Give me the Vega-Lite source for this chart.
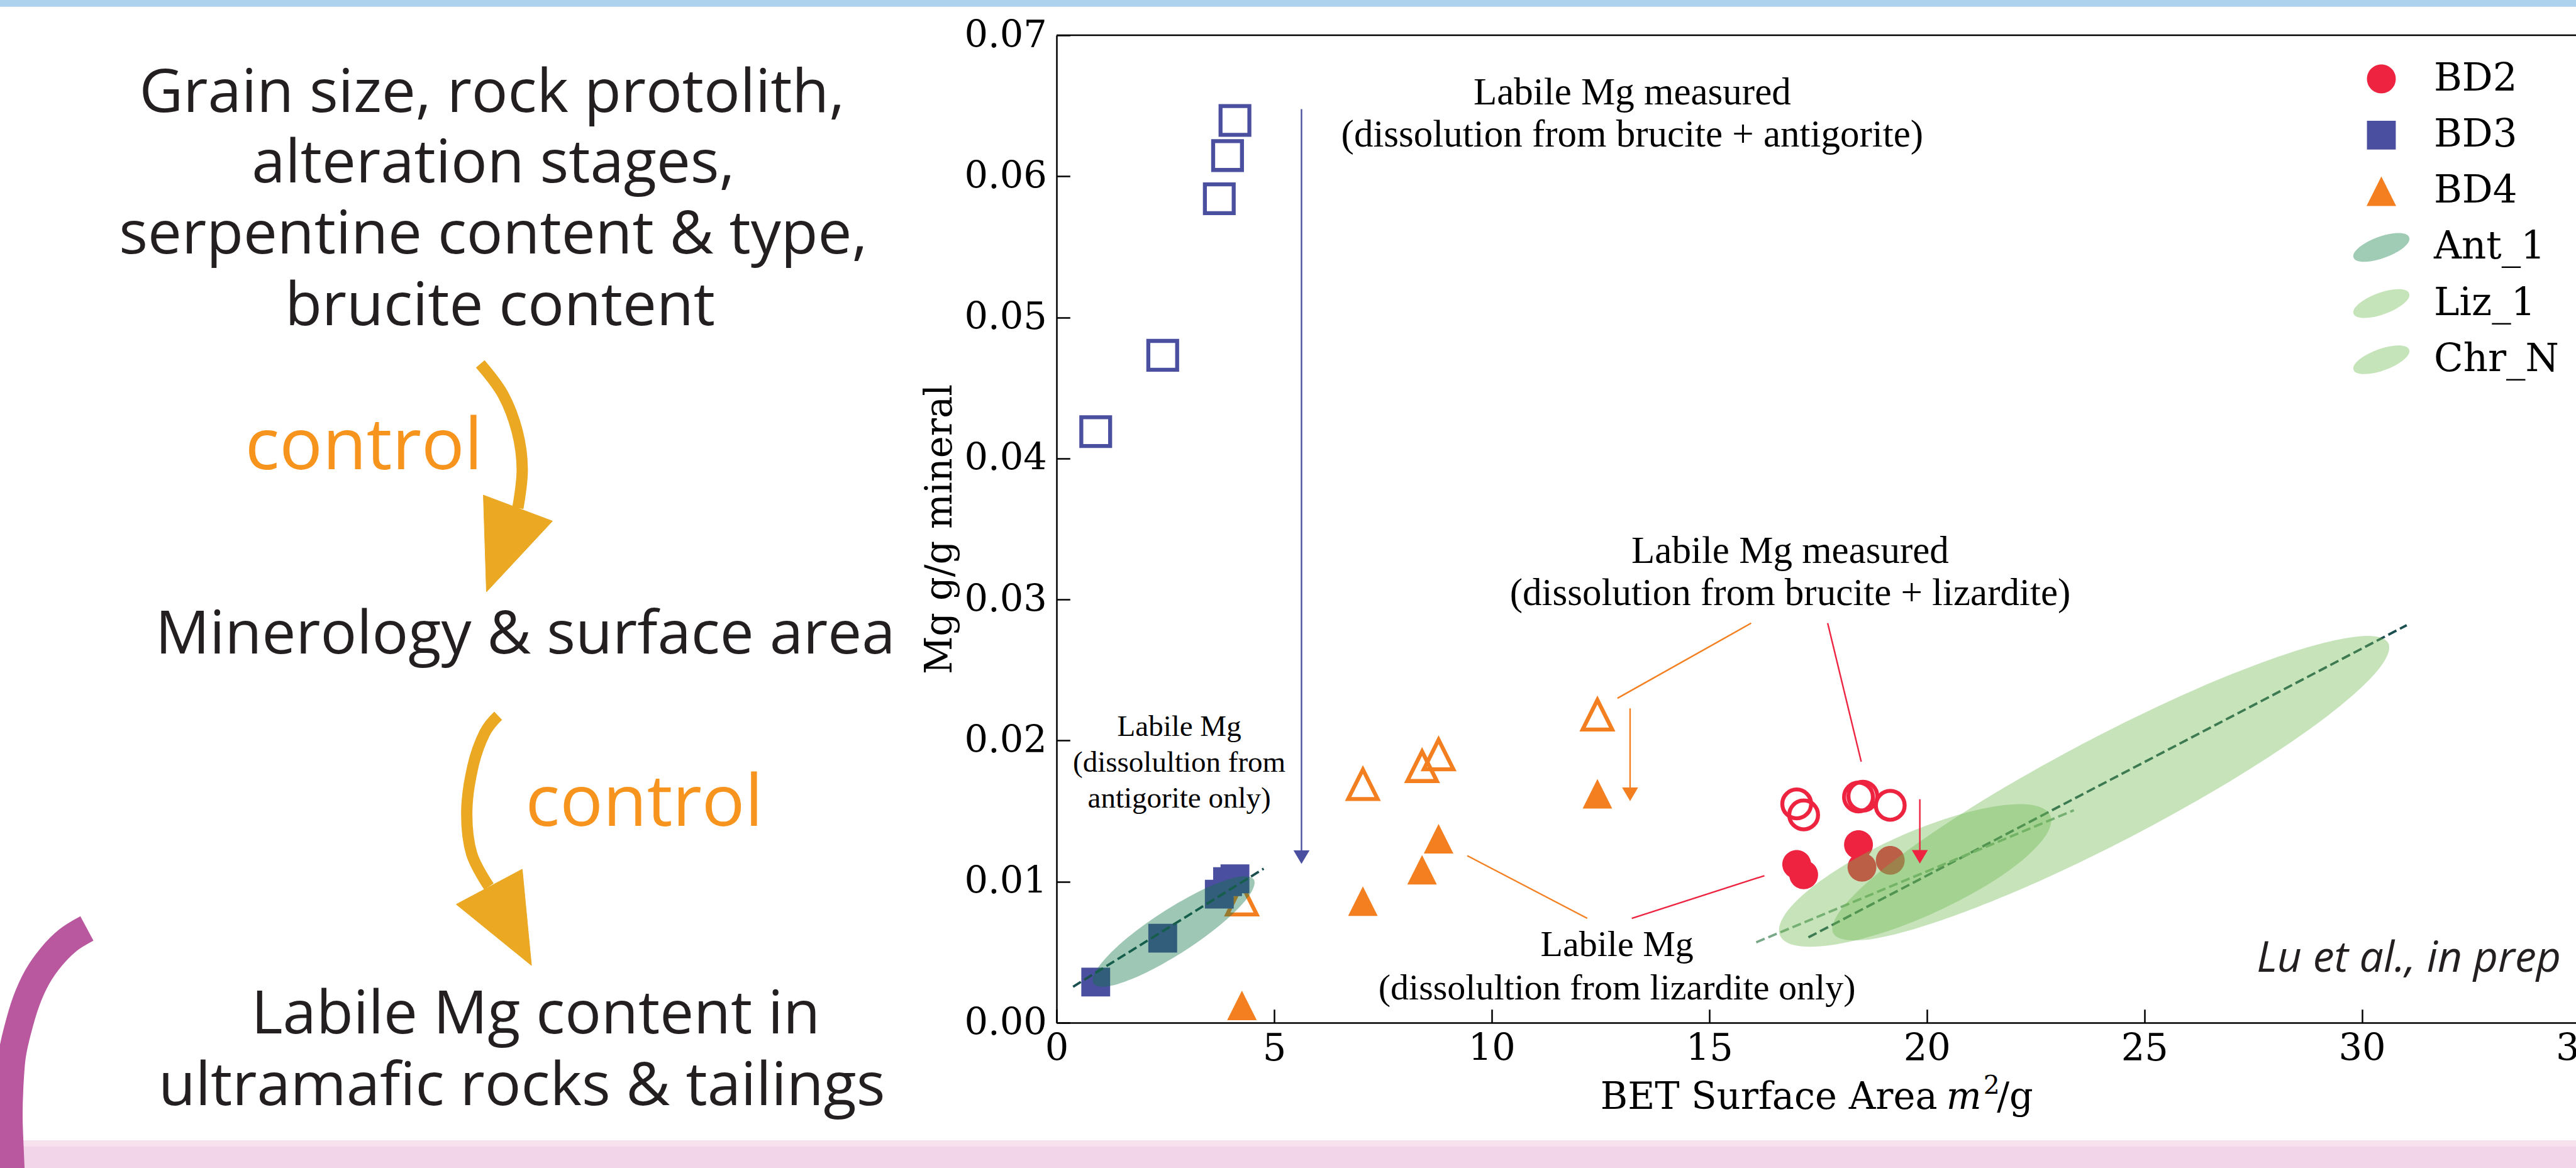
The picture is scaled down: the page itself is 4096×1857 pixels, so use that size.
{
  "$schema": "https://vega.github.io/schema/vega-lite/v6.json",
  "width": 2416,
  "height": 1570,
  "autosize": {"type": "none"},
  "padding": {"left": 1680, "top": 56, "right": 0, "bottom": 231},
  "background": "white",
  "config": {
    "view": {"stroke": null},
    "axis": {
      "grid": false,
      "domainColor": "black",
      "domainWidth": 2.5,
      "tickColor": "black",
      "tickWidth": 2.5,
      "tickSize": -21.3,
      "labelFont": "DejaVu Serif",
      "labelFontSize": 59,
      "labelColor": "black",
      "titleFont": "DejaVu Serif",
      "titleFontSize": 59,
      "titleFontWeight": "normal",
      "titleColor": "black",
      "labelFlush": false,
      "labelOverlap": false,
      "labelBound": false
    }
  },
  "resolve": {"scale": {"shape": "independent", "fill": "independent", "stroke": "independent", "color": "independent"}},
  "datasets": {
    "strips": [
      {"b": "top", "x": -24.4, "x2": 35.5, "y": 0.0726, "y2": 0.072015},
      {"b": "pinkLight", "x": -24.4, "x2": 35.5, "y": -0.00834, "y2": -0.00878},
      {"b": "pink", "x": -24.4, "x2": 35.5, "y": -0.00878, "y2": -0.0108}
    ],
    "arc": [
      {"i": 0, "x": -22.285, "y": 0.00668},
      {"i": 1, "x": -22.72, "y": 0.00585},
      {"i": 2, "x": -23.102, "y": 0.00467},
      {"i": 3, "x": -23.428, "y": 0.00323},
      {"i": 4, "x": -23.683, "y": 0.00149},
      {"i": 5, "x": -23.881, "y": -0.00057},
      {"i": 6, "x": -24.008, "y": -0.0024},
      {"i": 7, "x": -24.065, "y": -0.00472},
      {"i": 8, "x": -24.079, "y": -0.0069},
      {"i": 9, "x": -24.037, "y": -0.01022},
      {"i": 10, "x": -24.023, "y": -0.01118}
    ],
    "lshaft": [
      {"a": 1, "i": 0, "x": -13.244, "y": 0.0467},
      {"a": 1, "i": 1, "x": -12.72, "y": 0.04452},
      {"a": 1, "i": 2, "x": -12.394, "y": 0.0419},
      {"a": 1, "i": 3, "x": -12.28, "y": 0.03923},
      {"a": 1, "i": 4, "x": -12.38, "y": 0.03648},
      {"a": 2, "i": 0, "x": -12.833, "y": 0.02176},
      {"a": 2, "i": 1, "x": -13.144, "y": 0.02053},
      {"a": 2, "i": 2, "x": -13.414, "y": 0.01817},
      {"a": 2, "i": 3, "x": -13.555, "y": 0.01498},
      {"a": 2, "i": 4, "x": -13.442, "y": 0.01197},
      {"a": 2, "i": 5, "x": -13.045, "y": 0.00965}
    ],
    "lhead": [
      {"a": 1, "i": 0, "x": -13.173, "y": 0.0374},
      {"a": 1, "i": 1, "x": -11.586, "y": 0.03556},
      {"a": 1, "i": 2, "x": -13.102, "y": 0.03054},
      {"a": 2, "i": 0, "x": -13.796, "y": 0.00839},
      {"a": 2, "i": 1, "x": -12.28, "y": 0.01088},
      {"a": 2, "i": 2, "x": -12.068, "y": 0.00406}
    ],
    "ltext": [
      {"t": "Grain size, rock protolith,", "x": -12.975, "y": 0.06457},
      {"t": "alteration stages,", "x": -12.946, "y": 0.05955},
      {"t": "serpentine content & type,", "x": -12.946, "y": 0.05454},
      {"t": "brucite content", "x": -12.79, "y": 0.04943},
      {"t": "Minerology & surface area", "x": -12.21, "y": 0.02617},
      {"t": "Labile Mg content in", "x": -11.97, "y": -0.00074},
      {"t": "ultramafic rocks & tailings", "x": -12.29, "y": -0.00585}
    ],
    "ctext": [
      {"t": "control", "x": -15.92, "y": 0.03923},
      {"t": "control", "x": -9.476, "y": 0.01394}
    ],
    "frame": [{"x": 0, "x2": 34.92, "y": 0.07}],
    "pts": [
      {"s": "BD3", "m": "measured", "x": 0.9, "y": 0.0419},
      {"s": "BD3", "m": "measured", "x": 2.44, "y": 0.04731},
      {"s": "BD3", "m": "measured", "x": 3.74, "y": 0.05841},
      {"s": "BD3", "m": "measured", "x": 3.93, "y": 0.06147},
      {"s": "BD3", "m": "measured", "x": 4.1, "y": 0.06396},
      {"s": "BD3", "m": "labile", "x": 0.9, "y": 0.00288},
      {"s": "BD3", "m": "labile", "x": 2.44, "y": 0.00599},
      {"s": "BD3", "m": "labile", "x": 3.74, "y": 0.00911},
      {"s": "BD3", "m": "labile", "x": 3.93, "y": 0.01},
      {"s": "BD3", "m": "labile", "x": 4.1, "y": 0.0102},
      {"s": "BD4", "m": "measured", "x": 4.26, "y": 0.00872},
      {"s": "BD4", "m": "measured", "x": 7.04, "y": 0.0169},
      {"s": "BD4", "m": "measured", "x": 8.4, "y": 0.01818},
      {"s": "BD4", "m": "measured", "x": 8.78, "y": 0.01901},
      {"s": "BD4", "m": "measured", "x": 12.43, "y": 0.02183},
      {"s": "BD4", "m": "labile", "x": 4.26, "y": 0.00123},
      {"s": "BD4", "m": "labile", "x": 7.04, "y": 0.00862},
      {"s": "BD4", "m": "labile", "x": 8.4, "y": 0.01084},
      {"s": "BD4", "m": "labile", "x": 8.78, "y": 0.01304},
      {"s": "BD4", "m": "labile", "x": 12.43, "y": 0.01623},
      {"s": "BD2", "m": "measured", "x": 17.01, "y": 0.01551},
      {"s": "BD2", "m": "measured", "x": 17.17, "y": 0.01473},
      {"s": "BD2", "m": "measured", "x": 18.43, "y": 0.016},
      {"s": "BD2", "m": "measured", "x": 18.53, "y": 0.01606},
      {"s": "BD2", "m": "measured", "x": 19.16, "y": 0.01541},
      {"s": "BD2", "m": "labile", "x": 17.01, "y": 0.01122},
      {"s": "BD2", "m": "labile", "x": 17.17, "y": 0.01049},
      {"s": "BD2", "m": "labile", "x": 18.43, "y": 0.01262},
      {"s": "BD2", "m": "labile", "x": 18.51, "y": 0.01102},
      {"s": "BD2", "m": "labile", "x": 19.16, "y": 0.01151}
    ],
    "fitdark": [
      {"f": "Ant_1", "x": 0.38, "y": 0.00255},
      {"f": "Ant_1", "x": 4.76, "y": 0.01092},
      {"f": "Liz_1", "x": 17.28, "y": 0.00605},
      {"f": "Liz_1", "x": 31.03, "y": 0.02818}
    ],
    "fitlight": [
      {"f": "Chr_N", "x": 16.08, "y": 0.0057},
      {"f": "Chr_N", "x": 23.38, "y": 0.01506}
    ],
    "ant": [
      {"e": "Ant_1", "i": 0, "x": 4.533, "y": 0.01015},
      {"e": "Ant_1", "i": 1, "x": 4.424, "y": 0.009},
      {"e": "Ant_1", "i": 2, "x": 3.852, "y": 0.00717},
      {"e": "Ant_1", "i": 3, "x": 2.969, "y": 0.00515},
      {"e": "Ant_1", "i": 4, "x": 2.01, "y": 0.00348},
      {"e": "Ant_1", "i": 5, "x": 1.236, "y": 0.00261},
      {"e": "Ant_1", "i": 6, "x": 0.85, "y": 0.00278},
      {"e": "Ant_1", "i": 7, "x": 0.958, "y": 0.00393},
      {"e": "Ant_1", "i": 8, "x": 1.531, "y": 0.00577},
      {"e": "Ant_1", "i": 9, "x": 2.414, "y": 0.00778},
      {"e": "Ant_1", "i": 10, "x": 3.372, "y": 0.00945},
      {"e": "Ant_1", "i": 11, "x": 4.147, "y": 0.01032}
    ],
    "lizchr": [
      {"e": "Liz_1", "i": 0, "x": 30.605, "y": 0.02691},
      {"e": "Liz_1", "i": 1, "x": 30.333, "y": 0.02487},
      {"e": "Liz_1", "i": 2, "x": 29.132, "y": 0.02157},
      {"e": "Liz_1", "i": 3, "x": 27.184, "y": 0.01752},
      {"e": "Liz_1", "i": 4, "x": 24.786, "y": 0.01333},
      {"e": "Liz_1", "i": 5, "x": 22.303, "y": 0.00965},
      {"e": "Liz_1", "i": 6, "x": 20.115, "y": 0.00703},
      {"e": "Liz_1", "i": 7, "x": 18.551, "y": 0.00586},
      {"e": "Liz_1", "i": 8, "x": 17.851, "y": 0.00634},
      {"e": "Liz_1", "i": 9, "x": 18.123, "y": 0.00838},
      {"e": "Liz_1", "i": 10, "x": 19.324, "y": 0.01168},
      {"e": "Liz_1", "i": 11, "x": 21.272, "y": 0.01573},
      {"e": "Liz_1", "i": 12, "x": 23.67, "y": 0.01991},
      {"e": "Liz_1", "i": 13, "x": 26.153, "y": 0.0236},
      {"e": "Liz_1", "i": 14, "x": 28.341, "y": 0.02622},
      {"e": "Liz_1", "i": 15, "x": 29.905, "y": 0.02738},
      {"e": "Chr_N", "i": 0, "x": 22.836, "y": 0.01471},
      {"e": "Chr_N", "i": 1, "x": 22.749, "y": 0.01334},
      {"e": "Chr_N", "i": 2, "x": 22.204, "y": 0.01154},
      {"e": "Chr_N", "i": 3, "x": 21.282, "y": 0.00957},
      {"e": "Chr_N", "i": 4, "x": 20.123, "y": 0.00773},
      {"e": "Chr_N", "i": 5, "x": 18.905, "y": 0.0063},
      {"e": "Chr_N", "i": 6, "x": 17.813, "y": 0.00551},
      {"e": "Chr_N", "i": 7, "x": 17.013, "y": 0.00546},
      {"e": "Chr_N", "i": 8, "x": 16.626, "y": 0.00618},
      {"e": "Chr_N", "i": 9, "x": 16.712, "y": 0.00754},
      {"e": "Chr_N", "i": 10, "x": 17.258, "y": 0.00934},
      {"e": "Chr_N", "i": 11, "x": 18.18, "y": 0.01131},
      {"e": "Chr_N", "i": 12, "x": 19.339, "y": 0.01315},
      {"e": "Chr_N", "i": 13, "x": 20.557, "y": 0.01458},
      {"e": "Chr_N", "i": 14, "x": 21.649, "y": 0.01537},
      {"e": "Chr_N", "i": 15, "x": 22.449, "y": 0.01542}
    ],
    "ptr": [
      {"s": "BD4", "x": 12.891, "y": 0.023, "x2": 15.963, "y2": 0.02832},
      {"s": "BD4", "x": 9.439, "y": 0.01184, "x2": 12.195, "y2": 0.0074},
      {"s": "BD2", "x": 17.722, "y": 0.02832, "x2": 18.493, "y2": 0.0185},
      {"s": "BD2", "x": 16.268, "y": 0.01042, "x2": 13.22, "y2": 0.0074},
      {"s": "BD3", "x": 5.629, "y": 0.06476, "x2": 5.629, "y2": 0.0118},
      {"s": "BD4", "x": 13.181, "y": 0.02228, "x2": 13.181, "y2": 0.0162},
      {"s": "BD2", "x": 19.84, "y": 0.01584, "x2": 19.84, "y2": 0.0118}
    ],
    "heads": [
      {"s": "BD3", "x": 5.629, "y": 0.01126},
      {"s": "BD4", "x": 13.181, "y": 0.01571},
      {"s": "BD2", "x": 19.84, "y": 0.01128}
    ],
    "ann1": [
      {"t": "Labile Mg measured\n(dissolution from brucite + antigorite)", "x": 13.23, "y": 0.06591},
      {"t": "Labile Mg measured\n(dissolution from brucite + lizardite)", "x": 16.86, "y": 0.0334}
    ],
    "ann2": [
      {"t": "Labile Mg\n(dissolultion from\nantigorite only)", "x": 2.82, "y": 0.02095}
    ],
    "ann3": [
      {"t": "Labile Mg\n(dissolultion from lizardite only)", "x": 12.88, "y": 0.0055}
    ],
    "credit": [
      {"t": "Lu et al., in prep", "x": 34.575, "y": 0.00363}
    ],
    "xtitle": [
      {"t": "BET Surface Area", "x": 12.5, "y": -0.006103}
    ],
    "xtitle_m": [
      {"t": "m", "x": 20.45, "y": -0.006103}
    ],
    "xtitle_sup": [
      {"t": "2", "x": 21.3, "y": -0.00502}
    ],
    "xtitle_g": [
      {"t": "/g", "x": 21.61, "y": -0.006103}
    ],
    "lastTick": [
      {"t": "35", "x": 35, "y": -0.000566}
    ],
    "leg": [
      {"s": "BD2"}, {"s": "BD3"}, {"s": "BD4"}, {"s": "Ant_1"}, {"s": "Liz_1"}, {"s": "Chr_N"}
    ]
  },
  "encoding": {
    "x": {
      "field": "x",
      "type": "quantitative",
      "scale": {"domain": [0, 34.92], "nice": false, "zero": false},
      "axis": {"values": [0, 5, 10, 15, 20, 25, 30], "format": "d", "labelPadding": 34, "title": null}
    },
    "y": {
      "field": "y",
      "type": "quantitative",
      "scale": {"domain": [0, 0.07], "nice": false, "zero": false},
      "axis": {"values": [0, 0.01, 0.02, 0.03, 0.04, 0.05, 0.06, 0.07], "format": ".2f", "labelPadding": 37, "title": "Mg g/g mineral", "titlePadding": 8}
    }
  },
  "layer": [
    {
      "data": {"name": "strips"},
      "mark": {"type": "rect"},
      "encoding": {
        "x2": {"field": "x2"},
        "y2": {"field": "y2"},
        "color": {"field": "b", "type": "nominal", "scale": {"domain": ["top", "pinkLight", "pink"], "range": ["#acd2ee", "#f6e1ed", "#f2d5e8"]}, "legend": null}
      }
    },
    {
      "data": {"name": "arc"},
      "mark": {"type": "line", "interpolate": "cardinal", "stroke": "#b9589e", "strokeWidth": 44, "strokeCap": "butt"},
      "encoding": {"order": {"field": "i", "type": "quantitative"}}
    },
    {
      "data": {"name": "lshaft"},
      "mark": {"type": "line", "interpolate": "cardinal", "stroke": "#eaa823", "strokeWidth": 18, "strokeCap": "butt"},
      "encoding": {"detail": {"field": "a", "type": "nominal"}, "order": {"field": "i", "type": "quantitative"}}
    },
    {
      "data": {"name": "lhead"},
      "mark": {"type": "line", "interpolate": "linear-closed", "fill": "#eaa823", "stroke": "#eaa823", "strokeWidth": 1},
      "encoding": {"detail": {"field": "a", "type": "nominal"}, "order": {"field": "i", "type": "quantitative"}}
    },
    {
      "data": {"name": "ltext"},
      "mark": {"type": "text", "font": "Open Sans", "fontSize": 96, "color": "#231f20", "align": "center", "baseline": "alphabetic"},
      "encoding": {"text": {"field": "t"}}
    },
    {
      "data": {"name": "ctext"},
      "mark": {"type": "text", "font": "Open Sans", "fontSize": 114, "color": "#f7941d", "align": "center", "baseline": "alphabetic"},
      "encoding": {"text": {"field": "t"}}
    },
    {
      "data": {"name": "frame"},
      "mark": {"type": "rule", "color": "black", "strokeWidth": 2.5},
      "encoding": {"x2": {"field": "x2"}}
    },
    {
      "data": {"name": "pts"},
      "transform": [{"filter": "datum.m === 'measured'"}],
      "mark": {"type": "point", "filled": false, "size": 7921, "opacity": 1, "strokeWidth": 6.3},
      "encoding": {
        "shape": {"field": "s", "type": "nominal", "legend": null, "scale": {"domain": ["BD2", "BD3", "BD4"], "range": ["M-0.515,0 A0.515,0.515 0 1 0 0.515,0 A0.515,0.515 0 1 0 -0.515,0 Z", "M-0.515,-0.515 L0.515,-0.515 L0.515,0.515 L-0.515,0.515 Z", "M0,-0.528 L0.528,0.528 L-0.528,0.528 Z"]}},
        "stroke": {"field": "s", "type": "nominal", "legend": null, "scale": {"domain": ["BD2", "BD3", "BD4"], "range": ["#ed2340", "#4a4f9f", "#f47f20"]}}
      }
    },
    {
      "data": {"name": "pts"},
      "transform": [{"filter": "datum.m === 'labile'"}],
      "mark": {"type": "point", "filled": true, "size": 7921, "opacity": 1, "strokeWidth": 0},
      "encoding": {
        "shape": {"field": "s", "type": "nominal", "legend": null, "scale": {"domain": ["BD2", "BD3", "BD4"], "range": ["M-0.515,0 A0.515,0.515 0 1 0 0.515,0 A0.515,0.515 0 1 0 -0.515,0 Z", "M-0.515,-0.515 L0.515,-0.515 L0.515,0.515 L-0.515,0.515 Z", "M0,-0.528 L0.528,0.528 L-0.528,0.528 Z"]}},
        "fill": {"field": "s", "type": "nominal", "legend": null, "scale": {"domain": ["BD2", "BD3", "BD4"], "range": ["#ed2340", "#4a4f9f", "#f47f20"]}}
      }
    },
    {
      "data": {"name": "fitdark"},
      "mark": {"type": "line", "stroke": "#1c5050", "strokeWidth": 3.8, "strokeDash": [14.5, 6.3]},
      "encoding": {"detail": {"field": "f", "type": "nominal"}}
    },
    {
      "data": {"name": "fitlight"},
      "mark": {"type": "line", "stroke": "#78a888", "strokeWidth": 3.8, "strokeDash": [14.5, 6.3]},
      "encoding": {"detail": {"field": "f", "type": "nominal"}}
    },
    {
      "data": {"name": "ant"},
      "mark": {"type": "line", "interpolate": "cardinal-closed", "fill": "#107446", "fillOpacity": 0.4, "strokeWidth": 0, "strokeOpacity": 0},
      "encoding": {"detail": {"field": "e", "type": "nominal"}, "order": {"field": "i", "type": "quantitative"}}
    },
    {
      "data": {"name": "lizchr"},
      "mark": {"type": "line", "interpolate": "cardinal-closed", "fill": "#71ba52", "fillOpacity": 0.4, "strokeWidth": 0, "strokeOpacity": 0},
      "encoding": {"detail": {"field": "e", "type": "nominal"}, "order": {"field": "i", "type": "quantitative"}}
    },
    {
      "data": {"name": "ptr"},
      "mark": {"type": "rule", "strokeWidth": 2.4},
      "encoding": {
        "x2": {"field": "x2"},
        "y2": {"field": "y2"},
        "stroke": {"field": "s", "type": "nominal", "legend": null, "scale": {"domain": ["BD2", "BD3", "BD4"], "range": ["#ed2340", "#4a4f9f", "#f47f20"]}}
      }
    },
    {
      "data": {"name": "heads"},
      "mark": {"type": "point", "filled": true, "size": 650, "opacity": 1, "strokeWidth": 0, "shape": "M-1,-1.692 L1,-1.692 L0,0 Z"},
      "encoding": {
        "fill": {"field": "s", "type": "nominal", "legend": null, "scale": {"domain": ["BD2", "BD3", "BD4"], "range": ["#ed2340", "#4a4f9f", "#f47f20"]}}
      }
    },
    {
      "data": {"name": "ann1"},
      "mark": {"type": "text", "font": "Liberation Serif", "fontSize": 61, "color": "black", "align": "center", "baseline": "middle", "lineBreak": "\n", "lineHeight": 67.5},
      "encoding": {"text": {"field": "t"}}
    },
    {
      "data": {"name": "ann2"},
      "mark": {"type": "text", "font": "Liberation Serif", "fontSize": 47, "color": "black", "align": "center", "baseline": "middle", "lineBreak": "\n", "lineHeight": 56.8},
      "encoding": {"text": {"field": "t"}}
    },
    {
      "data": {"name": "ann3"},
      "mark": {"type": "text", "font": "Liberation Serif", "fontSize": 58, "color": "black", "align": "center", "baseline": "middle", "lineBreak": "\n", "lineHeight": 69.6},
      "encoding": {"text": {"field": "t"}}
    },
    {
      "data": {"name": "credit"},
      "mark": {"type": "text", "font": "Open Sans", "fontStyle": "italic", "fontSize": 68, "color": "#231f20", "align": "right", "baseline": "alphabetic"},
      "encoding": {"text": {"field": "t"}}
    },
    {
      "data": {"name": "xtitle"},
      "mark": {"type": "text", "font": "DejaVu Serif", "fontSize": 59, "color": "black", "align": "left", "baseline": "alphabetic"},
      "encoding": {"text": {"field": "t"}}
    },
    {
      "data": {"name": "xtitle_m"},
      "mark": {"type": "text", "font": "DejaVu Serif", "fontStyle": "italic", "fontSize": 59, "color": "black", "align": "left", "baseline": "alphabetic"},
      "encoding": {"text": {"field": "t"}}
    },
    {
      "data": {"name": "xtitle_sup"},
      "mark": {"type": "text", "font": "DejaVu Serif", "fontSize": 41, "color": "black", "align": "left", "baseline": "alphabetic"},
      "encoding": {"text": {"field": "t"}}
    },
    {
      "data": {"name": "xtitle_g"},
      "mark": {"type": "text", "font": "DejaVu Serif", "fontSize": 59, "color": "black", "align": "left", "baseline": "alphabetic"},
      "encoding": {"text": {"field": "t"}}
    },
    {
      "data": {"name": "lastTick"},
      "mark": {"type": "text", "font": "DejaVu Serif", "fontSize": 59, "color": "black", "align": "center", "baseline": "top"},
      "encoding": {"text": {"field": "t"}}
    },
    {
      "data": {"name": "leg"},
      "mark": {"type": "point", "filled": true, "opacity": 1, "size": 7921},
      "encoding": {
        "shape": {"field": "s", "type": "nominal", "scale": {"domain": ["BD2", "BD3", "BD4", "Ant_1", "Liz_1", "Chr_N"], "range": ["M-0.515,0 A0.515,0.515 0 1 0 0.515,0 A0.515,0.515 0 1 0 -0.515,0 Z", "M-0.515,-0.515 L0.515,-0.515 L0.515,0.515 L-0.515,0.515 Z", "M0,-0.528 L0.528,0.528 L-0.528,0.528 Z", "M-0.992,0.361 A1.056,0.375 -20 1 0 0.992,-0.361 A1.056,0.375 -20 1 0 -0.992,0.361 Z", "M-0.992,0.361 A1.056,0.375 -20 1 0 0.992,-0.361 A1.056,0.375 -20 1 0 -0.992,0.361 Z", "M-0.992,0.361 A1.056,0.375 -20 1 0 0.992,-0.361 A1.056,0.375 -20 1 0 -0.992,0.361 Z"]},
          "legend": {"title": null, "orient": "none", "legendX": 2062, "legendY": 25, "symbolSize": 7921, "symbolStrokeWidth": 0, "symbolOpacity": 1, "labelFont": "DejaVu Serif", "labelFontSize": 61, "labelColor": "black", "labelOffset": 39, "rowPadding": 14.3, "padding": 0, "labelLimit": 600}},
        "fill": {"field": "s", "type": "nominal", "scale": {"domain": ["BD2", "BD3", "BD4", "Ant_1", "Liz_1", "Chr_N"], "range": ["#ed2340", "#4a4f9f", "#f47f20", "#a0cbb5", "#c5e4b9", "#c5e4b9"]},
          "legend": {"title": null, "orient": "none", "legendX": 2062, "legendY": 25, "symbolSize": 7921, "symbolStrokeWidth": 0, "symbolOpacity": 1, "labelFont": "DejaVu Serif", "labelFontSize": 61, "labelColor": "black", "labelOffset": 39, "rowPadding": 14.3, "padding": 0, "labelLimit": 600}}
      }
    }
  ]
}
